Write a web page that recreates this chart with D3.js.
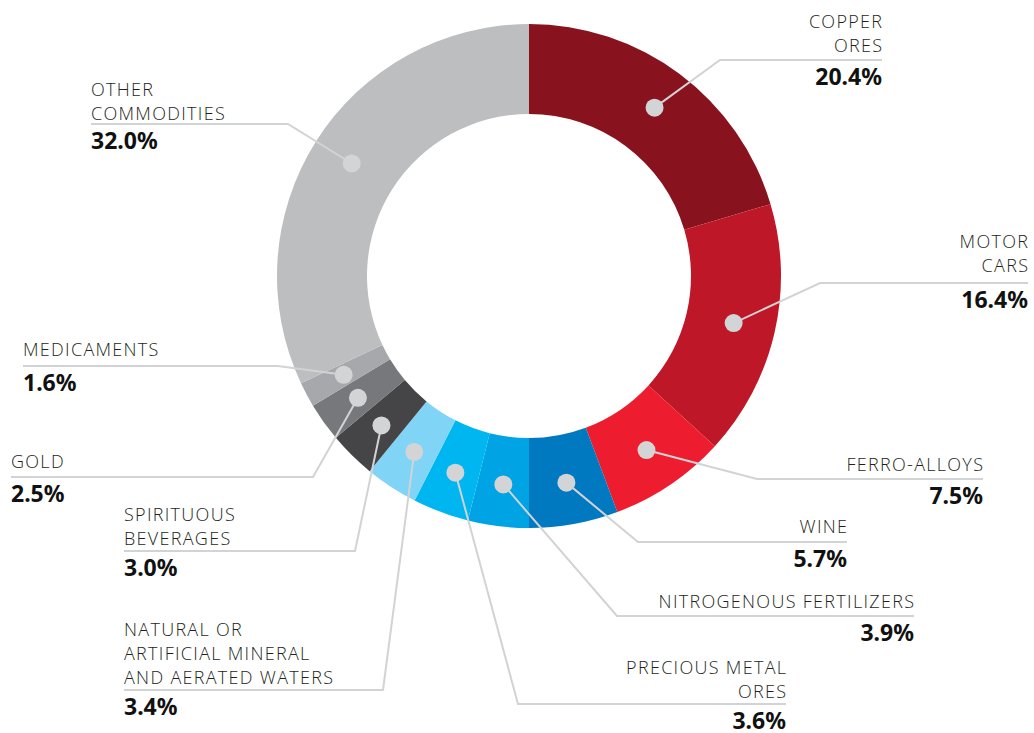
<!DOCTYPE html>
<html>
<head>
<meta charset="utf-8">
<script src="https://cdn.jsdelivr.net/npm/d3@7"></script>
<style>
  body { margin: 0; background: #fff; }
  .name { font-family: "Open Sans", "Noto Sans", sans-serif; font-weight: 300; font-size: 18px; fill: #231f20; letter-spacing: 1.3px; }
  .value { font-family: "Noto Sans", "Open Sans", sans-serif; font-weight: 700; font-size: 23px; fill: #111; }
</style>
</head>
<body>
<div id="chart"></div>
<script>
// data
let names = ["COPPER ORES", "MOTOR CARS", "FERRO-ALLOYS", "WINE", "NITROGENOUS FERTILIZERS",
  "PRECIOUS METAL ORES", "NATURAL OR ARTIFICIAL MINERAL AND AERATED WATERS",
  "SPIRITUOUS BEVERAGES", "GOLD", "MEDICAMENTS", "OTHER COMMODITIES"];
let shares = [20.4, 16.4, 7.5, 5.7, 3.9, 3.6, 3.4, 3.0, 2.5, 1.6, 32.0];
let colors = ["#88131f", "#be1828", "#ed1c2e", "#0079c1", "#00a3e3", "#00b6f0",
  "#80d4f6", "#454547", "#77787b", "#a6a8ab", "#bdbec0"];

// how each label is broken into lines
let labelLines = [
  ["COPPER", "ORES"], ["MOTOR", "CARS"], ["FERRO-ALLOYS"], ["WINE"], ["NITROGENOUS FERTILIZERS"],
  ["PRECIOUS METAL", "ORES"], ["NATURAL OR", "ARTIFICIAL MINERAL", "AND AERATED WATERS"],
  ["SPIRITUOUS", "BEVERAGES"], ["GOLD"], ["MEDICAMENTS"], ["OTHER", "COMMODITIES"]
];

// label layout: text edge x, anchor, first baseline, rule y, elbow x
let layout = [
  {x: 882, anchor: "end", y0: 28, rule: 60, ex: 720},
  {x: 1028, anchor: "end", y0: 248, rule: 283, ex: 820},
  {x: 983, anchor: "end", y0: 471, rule: 479, ex: 757},
  {x: 847, anchor: "end", y0: 533, rule: 542, ex: 638},
  {x: 914, anchor: "end", y0: 608, rule: 616, ex: 617},
  {x: 786, anchor: "end", y0: 674, rule: 704, ex: 518},
  {x: 124, anchor: "start", y0: 636, rule: 690, ex: 383},
  {x: 124, anchor: "start", y0: 521, rule: 551, ex: 355},
  {x: 11, anchor: "start", y0: 468, rule: 477, ex: 313},
  {x: 23, anchor: "start", y0: 356, rule: 366, ex: 278},
  {x: 91, anchor: "start", y0: 96, rule: 124, ex: 288}
];

let width = 1034, height = 733;
let cx = 529, cy = 276;
let outerR = 252, innerR = 162, dotR = 210;
let lineH = 24;
let spacing = 1.3;

let svg = d3.select("#chart").append("svg")
  .attr("width", width)
  .attr("height", height);

let data = shares.map((v, i) => ({name: names[i], value: v, color: colors[i], lines: labelLines[i], pos: layout[i]}));

let pie = d3.pie()
  .sort(null)
  .value(d => d.value)
  .startAngle(0)
  .endAngle(2 * Math.PI);

let arc = d3.arc().innerRadius(innerR).outerRadius(outerR);
let dotArc = d3.arc().innerRadius(dotR).outerRadius(dotR);

let g = svg.append("g").attr("transform", `translate(${cx},${cy})`);

let arcs = pie(data);

g.selectAll("path.slice")
  .data(arcs)
  .enter().append("path")
  .attr("class", "slice")
  .attr("d", arc)
  .attr("fill", d => d.data.color);

// leader lines
let leaders = svg.append("g");
leaders.selectAll("polyline")
  .data(arcs)
  .enter().append("polyline")
  .attr("fill", "none")
  .attr("stroke", "#d1d3d4")
  .attr("stroke-width", 2)
  .attr("points", d => {
    let c = dotArc.centroid(d);
    let p = d.data.pos;
    return [[cx + c[0], cy + c[1]], [p.ex, p.rule], [p.x, p.rule]].map(q => q.join(",")).join(" ");
  });

// dots
leaders.selectAll("circle")
  .data(arcs)
  .enter().append("circle")
  .attr("cx", d => cx + dotArc.centroid(d)[0])
  .attr("cy", d => cy + dotArc.centroid(d)[1])
  .attr("r", 9)
  .attr("fill", "#d3d4d6");

// labels
let labels = svg.append("g").selectAll("g")
  .data(data)
  .enter().append("g");

labels.each(function(d) {
  let sel = d3.select(this);
  // letter-spacing leaves a gap after the last glyph, shift right-aligned text back
  let nx = d.pos.anchor === "end" ? d.pos.x + spacing : d.pos.x;
  d.lines.forEach((t, i) => {
    sel.append("text")
      .attr("class", "name")
      .attr("x", nx)
      .attr("y", d.pos.y0 + i * lineH)
      .attr("text-anchor", d.pos.anchor)
      .text(t);
  });
  sel.append("text")
    .attr("class", "value")
    .attr("x", d.pos.x)
    .attr("y", d.pos.rule + 25)
    .attr("text-anchor", d.pos.anchor)
    .text(d.value.toFixed(1) + "%");
});
</script>
</body>
</html>
